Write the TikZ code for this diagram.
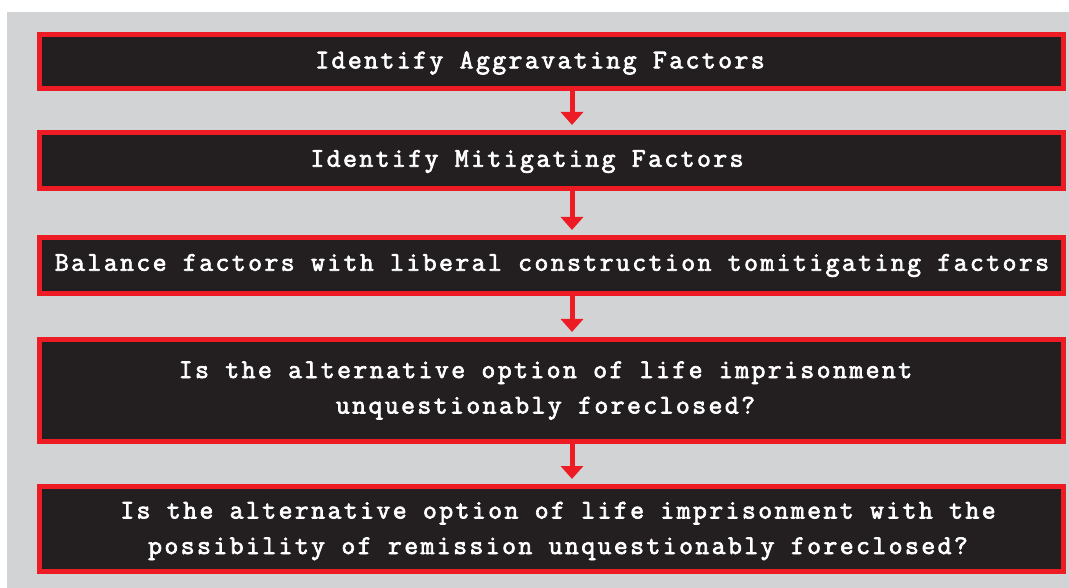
\documentclass[tikz,border=0pt]{standalone}
\usepackage{fontspec}
\newfontfamily\twfont[FakeBold=2.6,LetterSpace=8.9]{Latin Modern Mono}
\usetikzlibrary{arrows.meta,calc}
\definecolor{bred}{HTML}{ED1C24}
\definecolor{bdark}{HTML}{231F20}
\definecolor{bgray}{HTML}{D1D3D4}
\begin{document}
\begin{tikzpicture}[x=1pt,y=-1pt,
  box/.style={draw=bred,fill=bdark,line width=5pt,minimum width=1024pt,inner sep=0pt,anchor=center},
  txt/.style={text=white,font=\fontsize{27pt}{35.5pt}\selectfont\twfont,align=center,inner sep=0pt,anchor=center},
  flow/.style={draw=bred,line width=5pt,-{Triangle[width=22pt,length=13pt]},shorten >=5pt}]
\useasboundingbox (0,0) rectangle (1069,588);
\fill[white] (0,0) rectangle (1069,588);
\fill[bgray] (7,12) rectangle (1069,588);
\coordinate (ax) at (572,0);
% boxes
\node[box,minimum height=54pt] (b1) at (551.5,61.5) {};
\node[box,minimum height=56pt] (b2) at (551.5,160.5) {};
\node[box,minimum height=56pt] (b3) at (551.5,265.5) {};
\node[box,minimum height=102pt] (b4) at (551.5,390.5) {};
\node[box,minimum height=85pt] (b5) at (551.5,529) {};
% texts
\node[txt] (t1) at (540,63) {Identify Aggravating Factors};
\node[txt] (t2) at (527,161.5) {Identify Mitigating Factors};
\node[txt] (t3) at (552,265.5) {Balance factors with liberal construction tomitigating factors};
\node[txt] (t4) at (545.5,390.5) {Is the alternative option of life imprisonment\\unquestionably foreclosed?};
\node[txt] (t5) at (558,531) {Is the alternative option of life imprisonment with the\\possibility of remission unquestionably foreclosed?};
% arrows
\draw[flow] (b1.south -| ax) -- (b2.north -| ax);
\draw[flow] (b2.south -| ax) -- (b3.north -| ax);
\draw[flow] (b3.south -| ax) -- (b4.north -| ax);
\draw[flow] (b4.south -| ax) -- (b5.north -| ax);
\end{tikzpicture}
\end{document}
